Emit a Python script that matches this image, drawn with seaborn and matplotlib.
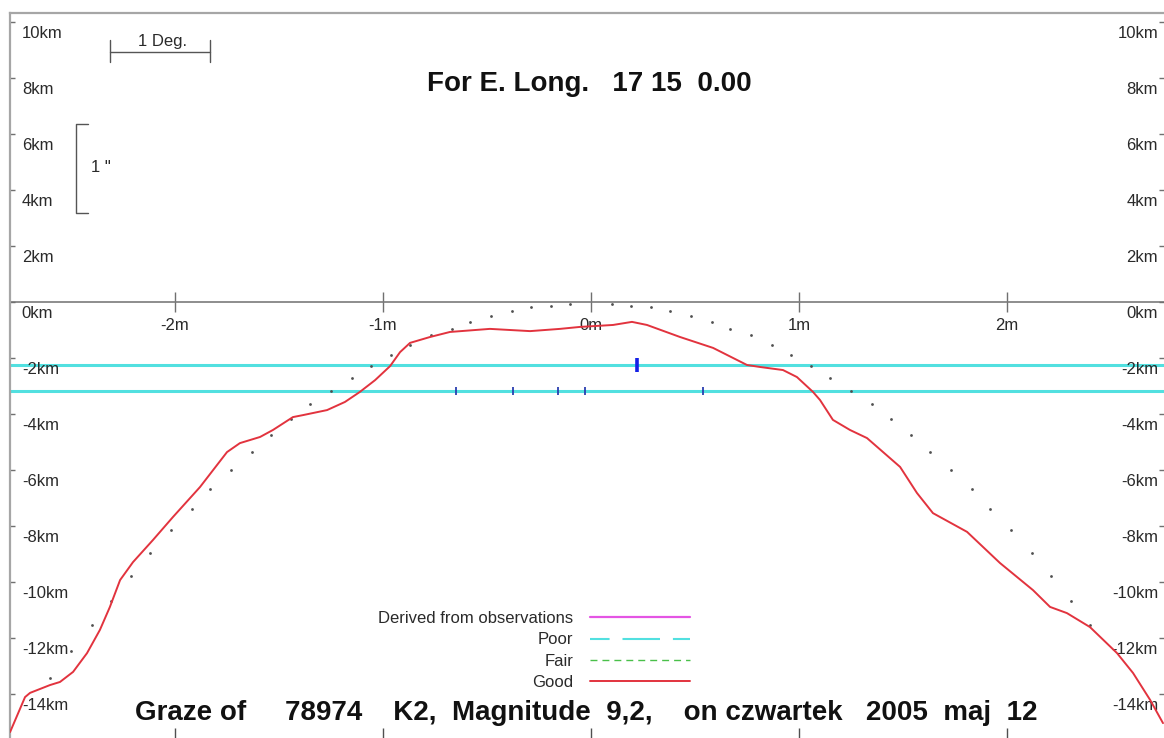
import matplotlib
matplotlib.use("Agg")
import matplotlib.pyplot as plt
import seaborn as sns
from matplotlib.lines import Line2D

sns.set_theme(style="white")
plt.rcParams['font.family'] = ['Liberation Sans', 'DejaVu Sans']

# ---- data (x in minutes, y in km) ----
# observed limb profile ("Good")
good_x = [-2.793, -2.721, -2.697, -2.601, -2.553, -2.490, -2.423, -2.361, -2.313, -2.264,
          -2.202, -2.106, -2.010, -1.880, -1.750, -1.688, -1.591, -1.529, -1.433, -1.385,
          -1.269, -1.183, -1.111, -1.038, -0.966, -0.918, -0.870, -0.774, -0.678, -0.486,
          -0.293, -0.149, -0.053, 0.106, 0.197, 0.269, 0.428, 0.587, 0.750, 0.812,
          0.923, 0.990, 1.067, 1.101, 1.163, 1.245, 1.327, 1.486, 1.567, 1.644,
          1.808, 1.966, 2.125, 2.207, 2.288, 2.399, 2.529, 2.606, 2.688, 2.750]
good_y = [-15.36, -14.11, -13.96, -13.68, -13.57, -13.21, -12.54, -11.71, -10.89, -9.93,
          -9.29, -8.50, -7.68, -6.61, -5.36, -5.04, -4.82, -4.57, -4.11, -4.04,
          -3.86, -3.57, -3.21, -2.79, -2.29, -1.79, -1.46, -1.25, -1.07, -0.96,
          -1.04, -0.96, -0.89, -0.82, -0.71, -0.82, -1.25, -1.64, -2.25, -2.32,
          -2.43, -2.68, -3.21, -3.50, -4.21, -4.57, -4.86, -5.89, -6.82, -7.54,
          -8.21, -9.32, -10.29, -10.89, -11.11, -11.61, -12.54, -13.25, -14.21, -15.04]

# predicted mean limb (dotted)
limb_x = [-2.60, -2.50, -2.40, -2.31, -2.21, -2.12, -2.02, -1.92, -1.83, -1.73,
          -1.63, -1.54, -1.44, -1.35, -1.25, -1.15, -1.06, -0.96, -0.87, -0.77,
          -0.67, -0.58, -0.48, -0.38, -0.29, -0.19, -0.10, 0.10, 0.19, 0.29,
          0.38, 0.48, 0.58, 0.67, 0.77, 0.87, 0.96, 1.06, 1.15, 1.25,
          1.35, 1.44, 1.54, 1.63, 1.73, 1.83, 1.92, 2.02, 2.12, 2.21,
          2.31, 2.40]
limb_y = [-13.43, -12.46, -11.54, -10.68, -9.79, -8.96, -8.14, -7.39, -6.68, -6.00,
          -5.36, -4.75, -4.18, -3.64, -3.18, -2.71, -2.29, -1.89, -1.54, -1.18,
          -0.96, -0.71, -0.50, -0.32, -0.18, -0.13, -0.07, -0.07, -0.13, -0.18,
          -0.32, -0.50, -0.71, -0.96, -1.18, -1.54, -1.89, -2.29, -2.71, -3.18,
          -3.64, -4.18, -4.75, -5.36, -6.00, -6.68, -7.39, -8.14, -8.96, -9.79,
          -10.68, -11.54]

# observer tracks (cyan) and event marks (blue)
track_levels = [-2.25, -3.18]
upper_events_x = [0.22]
lower_events_x = [-0.65, -0.375, -0.16, -0.03, 0.54]

x_ticks = [-2, -1, 0, 1, 2]
x_labels = ['-2m', '-1m', '0m', '1m', '2m']
y_ticks = [10, 8, 6, 4, 2, 0, -2, -4, -6, -8, -10, -12, -14]

RED, CYAN, GREEN, MAGENTA, BLUE = '#e2333e', '#52e0e0', '#49c049', '#e455e4', '#1420e6'
GRAY, INK = '#a6a6a6', '#2a2a2a'

# ---- figure ----
W, H = 1164, 738
fig = plt.figure(figsize=(W / 100, H / 100), dpi=100)
ax = fig.add_axes([10 / W, 0, (W - 10) / W, (H - 13) / H])
ax.set_xlim(-2.7933, 2.7548)
ax.set_ylim(-15.571, 10.321)

for s in ['right', 'bottom']:
    ax.spines[s].set_visible(False)
for s in ['top', 'left']:
    ax.spines[s].set_color(GRAY)
    ax.spines[s].set_linewidth(1.6)

ax.set_xticks(x_ticks)
ax.set_yticks(y_ticks)
ax.tick_params(axis='x', which='both', direction='in', bottom=True, top=False,
               length=7, width=1, color='#505050', labelbottom=False)
ax.tick_params(axis='y', which='both', direction='in', left=True, right=True,
               length=3.5, width=1, color='#707070', labelleft=False, labelright=False)

# zero line with minute ticks, labels below it
sec = ax.secondary_xaxis((0 - (-15.571)) / (10.321 + 15.571))
sec.set_alignment('bottom')
sec.spines['bottom'].set_color('#7a7a7a')
sec.spines['bottom'].set_linewidth(1.2)
sec.set_xticks(x_ticks, x_labels)
sec.tick_params(direction='inout', length=14.4, width=1, color='#707070', pad=4.5,
                labelsize=12, labelcolor=INK)

# km labels both sides
for v in y_ticks:
    ax.annotate(f"{v}km", xy=(0, v), xycoords=ax.get_yaxis_transform(),
                xytext=(8.5, -8.3), textcoords='offset points', ha='left', va='center',
                fontsize=12, color=INK)
    ax.annotate(f"{v}km", xy=(1, v), xycoords=ax.get_yaxis_transform(),
                xytext=(-4.3, -8.3), textcoords='offset points', ha='right', va='center',
                fontsize=12, color=INK)

# observer chords
for lvl in track_levels:
    ax.axhline(lvl, color=CYAN, lw=2.2, zorder=2)
ax.vlines(upper_events_x, track_levels[0] - 0.25, track_levels[0] + 0.25,
          color=BLUE, lw=2.6, zorder=4)
ax.vlines(lower_events_x, track_levels[1] - 0.15, track_levels[1] + 0.15,
          color='#2a3fb0', lw=1.3, zorder=4)

# limb profiles
sns.scatterplot(x=limb_x, y=limb_y, s=4, color='#505050', linewidth=0, ax=ax, zorder=3)
sns.lineplot(x=good_x, y=good_y, sort=False, color=RED, lw=1.4, ax=ax, zorder=5)

# scale indicators
ax.plot([-2.3125, -1.8317], [8.93, 8.93], color='#555555', lw=1)
ax.plot([-2.3125, -2.3125], [8.57, 9.36], color='#555555', lw=1)
ax.plot([-1.8317, -1.8317], [8.57, 9.36], color='#555555', lw=1)
ax.text(-2.06, 9.3, '1 Deg.', ha='center', va='center', fontsize=12, color=INK)
ax.plot([-2.418, -2.476, -2.476, -2.418], [6.36, 6.36, 3.18, 3.18], color='#555555', lw=1)
ax.text(-2.405, 4.79, '1 "', ha='left', va='center', fontsize=12, color=INK)

# legend (labels left, handles right)
handles = [Line2D([], [], color=MAGENTA, lw=1.6),
           Line2D([], [], color=CYAN, lw=1.5, linestyle=(8.6, (18, 6.2))),
           Line2D([], [], color=GREEN, lw=1.0, linestyle=(0, (5, 3.6))),
           Line2D([], [], color=RED, lw=1.4)]
labels = ['Derived from observations', 'Poor', 'Fair', 'Good']
ax.legend(handles, labels, markerfirst=False, frameon=False, fontsize=12,
          loc='upper right', bbox_to_anchor=(690 / W, (H - 611) / H),
          bbox_transform=fig.transFigure, borderpad=0, borderaxespad=0,
          handlelength=6.0, handletextpad=1.0, labelspacing=0.38, labelcolor=INK)

fig.text(427 / W, 1 - 84 / H, 'For E. Long.   17 15  0.00', ha='left', va='center',
         fontsize=20, fontweight='bold', color='#111111')
fig.text(135 / W, 1 - 713 / H,
         'Graze of     78974    K2,  Magnitude  9,2,    on czwartek   2005  maj  12',
         ha='left', va='center', fontsize=20, fontweight='bold', color='#111111')

fig.savefig('out.png', dpi=100, facecolor='white')
